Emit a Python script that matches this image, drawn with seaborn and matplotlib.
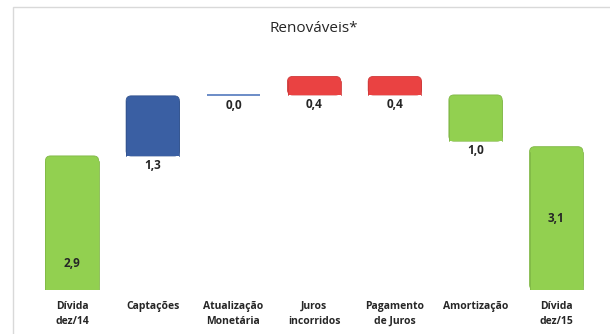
import matplotlib
matplotlib.use('Agg')
import matplotlib.pyplot as plt
import seaborn as sns
import numpy as np
import pandas as pd
from matplotlib.patches import FancyBboxPatch, Rectangle
from matplotlib.colors import to_rgb

# Dados do gráfico (R$ bilhões)
categorias = ['Dívida\ndez/14', 'Captações', 'Atualização\nMonetária',
              'Juros\nincorridos', 'Pagamento\nde Juros', 'Amortização', 'Dívida\ndez/15']
saldo_inicial = 2.9
variacoes = [1.3, 0.02, 0.4, -0.4, -1.0]
saldo_final = 3.1
cores = ['#92d050', '#3a5fa3', '#6f8fc8', '#ea4242', '#ea4242', '#92d050', '#92d050']

# Cálculo da cascata
niveis = saldo_inicial + np.cumsum(variacoes)
anteriores = np.concatenate([[saldo_inicial], niveis[:-1]])
base = [0.0] + list(np.minimum(anteriores, niveis)) + [0.0]
topo = [saldo_inicial] + list(np.maximum(anteriores, niveis)) + [saldo_final]
valores = [saldo_inicial] + list(variacoes) + [saldo_final]

df = pd.DataFrame({'categoria': categorias, 'topo': topo, 'base': base, 'valor': valores})

sns.set_style('white')
plt.rcParams['font.family'] = ['Open Sans', 'DejaVu Sans']

fig = plt.figure(figsize=(6.1, 3.34), dpi=100)
ax = fig.add_axes([0.052, 0.132, 0.926, 0.6916])

sns.barplot(data=df, x='categoria', y='topo', hue='categoria', palette=cores,
            legend=False, width=0.66, saturation=1, ax=ax)

# Barras com cantos superiores arredondados, a partir da geometria do seaborn
raio = 0.062
aspecto = 80.7 / 46.2
for p, b, t, cor in zip(list(ax.patches), df['base'], df['topo'], cores):
    x, w = p.get_x(), p.get_width()
    p.set_visible(False)
    escura = tuple(c * 0.88 for c in to_rgb(cor))
    h = t - b
    if h > raio * aspecto * 1.5:
        ax.add_patch(FancyBboxPatch((x, b), w, h,
                                    boxstyle=f'round,pad=0,rounding_size={raio}',
                                    mutation_aspect=aspecto, facecolor=cor,
                                    edgecolor=escura, lw=0.6, zorder=2))
        ax.add_patch(Rectangle((x, b), w, h - raio * aspecto, facecolor=cor,
                               edgecolor='none', zorder=2.1))
        ax.plot([x, x], [b, t - raio * aspecto], color=escura, lw=0.6, zorder=2.2)
        ax.plot([x + w, x + w], [b, t - raio * aspecto], color=escura, lw=0.6, zorder=2.2)
    else:
        ax.add_patch(Rectangle((x, b), w, max(h, 0.03), facecolor=cor,
                               edgecolor='none', zorder=2))

# Rótulos de valor
for i, (b, t, v) in enumerate(zip(df['base'], df['topo'], df['valor'])):
    texto = f'{abs(v):.1f}'.replace('.', ',')
    if i == 0:
        ax.text(i, t * 0.2, texto, ha='center', va='center', fontsize=8.5, fontweight='bold')
    elif i == len(df) - 1:
        ax.text(i, t * 0.5, texto, ha='center', va='center', fontsize=8.5, fontweight='bold')
    else:
        ax.text(i, b - 0.06, texto, ha='center', va='top', fontsize=8.5, fontweight='bold')

ax.set_xlim(-0.5, 6.5)
ax.set_ylim(0, 5)
ax.set_xlabel('')
ax.set_ylabel('')
ax.set_yticks([])
ax.tick_params(axis='x', length=0, pad=8)
for lbl in ax.get_xticklabels():
    lbl.set_fontweight('bold')
    lbl.set_fontsize(7.5)
    lbl.set_linespacing(1.5)
sns.despine(ax=ax, left=True, bottom=True)

fig.text(0.515, 1 - 29 / 334, 'Renováveis*', ha='center', va='center', fontsize=11)

# Moldura da área do gráfico
fig.add_artist(Rectangle((13 / 610, -0.1), 1.0, 1.079, transform=fig.transFigure,
                         fill=False, edgecolor='#d9d9d9', lw=1))

fig.savefig('out.png', dpi=100)
